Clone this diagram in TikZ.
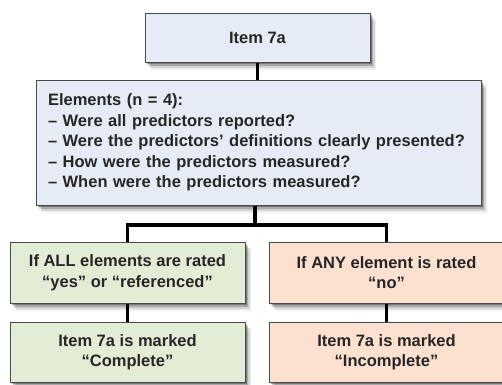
\documentclass[tikz,border=0pt]{standalone}
\usepackage{fontspec}
\setmainfont{Liberation Sans}
\usetikzlibrary{shadows}

\definecolor{bluefill}{HTML}{E5ECF6}
\definecolor{greenfill}{HTML}{E3EDD6}
\definecolor{rosefill}{HTML}{FCE0D0}
\definecolor{edgegrey}{HTML}{4A4A4A}

\begin{document}
\begin{tikzpicture}[x=1pt,y=-1pt]
\tikzstyle{every node}+=[font=\bfseries\fontsize{16.5}{20.5}\selectfont, text=black!85]
\tikzstyle{soft}=[drop shadow={shadow xshift=1.5pt,shadow yshift=-1.5pt,opacity=.3,fill=black},
  drop shadow={shadow xshift=3pt,shadow yshift=-3.5pt,opacity=.2,fill=black},
  drop shadow={shadow xshift=4.5pt,shadow yshift=-5.5pt,opacity=.12,fill=black},
  drop shadow={shadow xshift=6pt,shadow yshift=-7.5pt,opacity=.06,fill=black}]
\tikzstyle{box}=[draw=edgegrey, line width=1pt, soft, inner sep=0pt, align=center]
\tikzstyle{link}=[line width=3.8pt, black]
\useasboundingbox (0,0) rectangle (502,384);
\node [box, fill=bluefill, minimum width=225pt, minimum height=49pt] (item) at (257.5,37.5) {Item 7a};
\node [box, fill=bluefill, minimum width=445pt, minimum height=125pt, text width=421pt, align=left, inner xsep=12pt] (elems) at (258.5,142.5) {Elements (n = 4):\\
– Were all predictors reported?\\
– Were the predictors’ definitions clearly presented?\\
– How were the predictors measured?\\
– When were the predictors measured?};
\node [box, fill=greenfill, minimum width=235pt, minimum height=61pt] (allrated) at (127.5,272.5) {If ALL elements are rated\\“yes” or “referenced”};
\node [box, fill=rosefill, minimum width=235pt, minimum height=61pt] (anyrated) at (386.5,272.5) {If ANY element is rated\\“no”};
\node [box, fill=greenfill, minimum width=235pt, minimum height=60pt] (complete) at (127.5,352) {Item 7a is marked\\“Complete”};
\node [box, fill=rosefill, minimum width=235pt, minimum height=60pt] (incomplete) at (386.5,352) {Item 7a is marked\\“Incomplete”};
\coordinate (split) at (255,225);
\draw [link] (item.south) -- (item.south |- elems.north);
\draw [link] (split |- elems.south) -- (split);
\draw [link] (split) -| (allrated.north);
\draw [link] (split) -| (anyrated.north);
\draw [link] (allrated.south) -- (complete.north);
\draw [link] (anyrated.south) -- (incomplete.north);
\end{tikzpicture}
\end{document}
